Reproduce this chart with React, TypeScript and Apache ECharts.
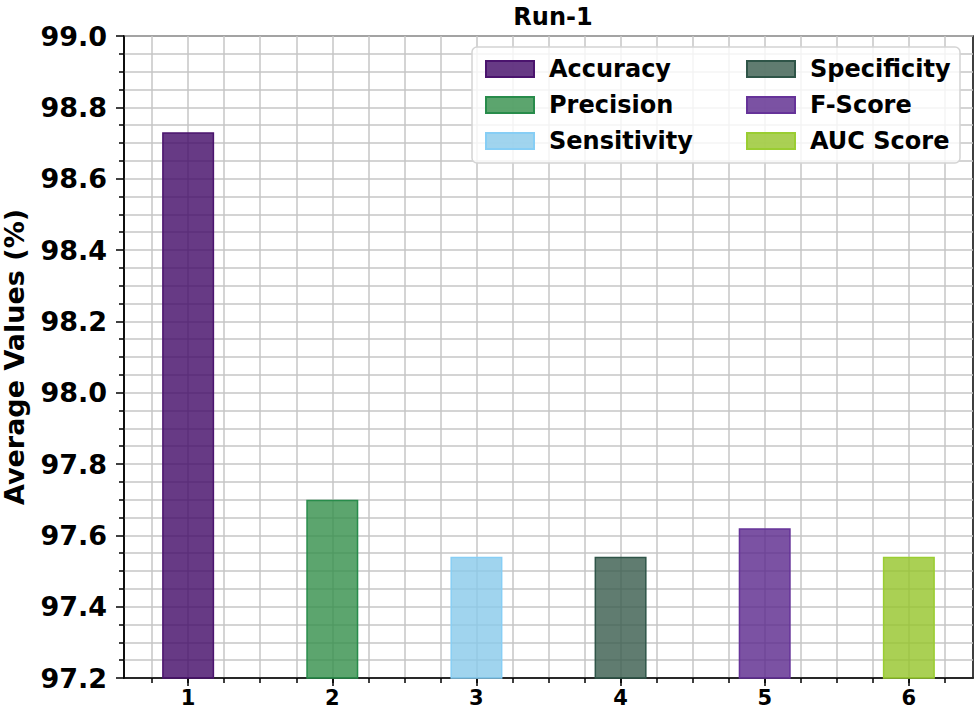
import React, { useEffect, useRef } from "react";
import * as echarts from "echarts";

const seriesNames = ["Accuracy", "Precision", "Sensitivity", "Specificity", "F-Score", "AUC Score"];
const positions = [1, 2, 3, 4, 5, 6];
const values = [98.73, 97.7, 97.54, 97.54, 97.62, 97.54];
const fillColors = ["65,9,102", "51,142,74", "136,201,234", "56,91,76", "90,39,140", "149,196,41"];
const edgeColors = ["75,20,110", "40,140,75", "135,206,245", "47,85,72", "102,51,153", "154,205,50"];
const majorXTicks = [1, 2, 3, 4, 5, 6];
const minorXTicks = [0.75, 1, 1.25, 1.5, 1.75, 2, 2.25, 2.5, 2.75, 3, 3.25, 3.5, 3.75, 4, 4.25, 4.5, 4.75, 5, 5.25, 5.5, 5.75, 6, 6.25];
const legendCol1 = ["Accuracy", "Precision", "Sensitivity"];
const legendCol2 = ["Specificity", "F-Score", "AUC Score"];

const FONT = "DejaVu Sans";

export default function App() {
  const ref = useRef<HTMLDivElement>(null);
  useEffect(() => {
    if (!ref.current) return;
    const chart = echarts.init(ref.current, null, { renderer: "svg" });
    const gridLine = { show: true, lineStyle: { color: "#c6c6c6", width: 1.5 } };
    const legendCommon = {
      orient: "vertical" as const,
      top: 50,
      icon: "rect",
      itemWidth: 48,
      itemHeight: 16,
      itemGap: 8,
      z: 200,
      textStyle: {
        fontFamily: FONT,
        fontWeight: "bold" as const,
        fontSize: 24,
        lineHeight: 28,
        color: "#000",
        padding: [0, 0, 0, 10],
      },
    };
    chart.setOption({
      animation: false,
      title: {
        text: "Run-1",
        left: 548,
        textAlign: "center",
        top: 0,
        textStyle: { fontFamily: FONT, fontWeight: "bold", fontSize: 24, color: "#000" },
      },
      grid: {
        left: 124,
        right: 7,
        top: 36,
        bottom: 36,
        show: true,
        borderColor: "#000",
        borderWidth: 1.5,
        backgroundColor: "transparent",
        outerBoundsMode: "none",
        containLabel: false,
      },
      graphic: [
        {
          type: "rect",
          z: 100,
          shape: { x: 472, y: 47, width: 488, height: 116, r: 5 },
          style: { fill: "rgba(255,255,255,0.8)", stroke: "#d4d4d4", lineWidth: 1.5 },
        },
      ],
      legend: [
        { ...legendCommon, left: 480, data: legendCol1 },
        { ...legendCommon, left: 741, data: legendCol2 },
      ],
      xAxis: [
        {
          type: "value",
          min: 0.555,
          max: 6.445,
          position: "bottom",
          axisLine: { show: true, lineStyle: { color: "#000", width: 1.5 } },
          axisTick: { show: true, length: 8, customValues: majorXTicks, lineStyle: { color: "#000", width: 1.5 } },
          axisLabel: {
            show: true,
            customValues: majorXTicks,
            fontFamily: FONT,
            fontWeight: "bold",
            fontSize: 21,
            color: "#000",
            margin: 9,
            formatter: (v: number) => String(Math.round(v)),
          },
          splitLine: { show: false },
        },
        {
          type: "value",
          min: 0.555,
          max: 6.445,
          position: "bottom",
          axisLine: { show: false },
          axisTick: { show: true, length: 5, customValues: minorXTicks, lineStyle: { color: "#000", width: 1.5 } },
          axisLabel: { show: false },
          splitLine: gridLine,
        },
      ],
      yAxis: {
        type: "value",
        min: 97.2,
        max: 99.0,
        interval: 0.2,
        name: "Average Values (%)",
        nameLocation: "middle",
        nameGap: 96,
        nameRotate: 90,
        nameTextStyle: { fontFamily: FONT, fontWeight: "bold", fontSize: 27, color: "#000" },
        axisLine: { show: true, lineStyle: { color: "#000", width: 1.5 } },
        axisTick: { show: true, length: 8, lineStyle: { color: "#000", width: 1.5 } },
        minorTick: { show: true, splitNumber: 4, length: 5, lineStyle: { color: "#000", width: 1.5 } },
        axisLabel: {
          fontFamily: FONT,
          fontWeight: "bold",
          fontSize: 27,
          color: "#000",
          margin: 17,
          formatter: (v: number) => v.toFixed(1),
        },
        splitLine: gridLine,
        minorSplitLine: gridLine,
      },
      series: seriesNames.map((name, i) => ({
        name,
        type: "bar",
        xAxisIndex: 0,
        barWidth: 52,
        barGap: "-100%",
        data: [[positions[i], values[i]]],
        itemStyle: {
          color: `rgba(${fillColors[i]},0.8)`,
          borderColor: `rgb(${edgeColors[i]})`,
          borderWidth: 1.5,
        },
      })),
    });
    return () => chart.dispose();
  }, []);
  return (
    <div
      ref={ref}
      style={{ position: "fixed", left: 0, top: 0, width: 980, height: 714, background: "#fff" }}
    />
  );
}
